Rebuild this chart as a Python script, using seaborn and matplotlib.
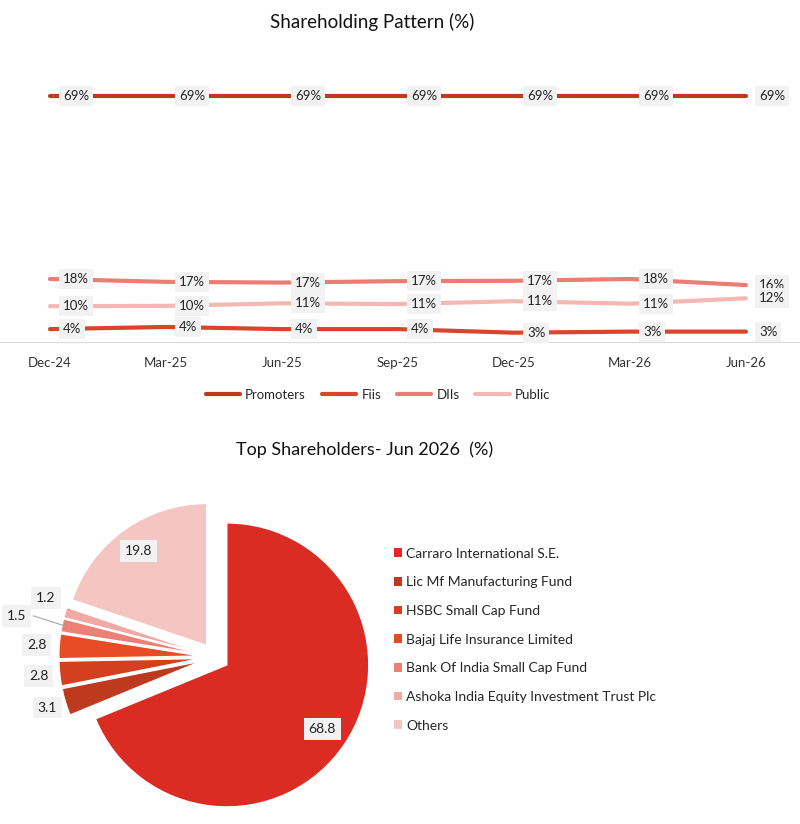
import numpy as np
import pandas as pd
import matplotlib
matplotlib.use("Agg")
import matplotlib.pyplot as plt
import seaborn as sns
from matplotlib.patches import Patch
from matplotlib.lines import Line2D

quarters = ["Dec-24", "Mar-25", "Jun-25", "Sep-25", "Dec-25", "Mar-26", "Jun-26"]
promoters = [68.8, 68.8, 68.8, 68.8, 68.8, 68.8, 68.8]
fiis = [3.6, 4.2, 3.6, 3.6, 2.6, 2.9, 2.9]
diis = [17.6, 16.8, 16.6, 17.0, 17.1, 17.6, 15.9]
public = [10.0, 10.1, 10.8, 10.6, 11.4, 10.7, 12.2]

holders = ["Carraro International S.E.", "Lic Mf Manufacturing Fund", "HSBC Small Cap Fund",
           "Bajaj Life Insurance Limited", "Bank Of India Small Cap Fund",
           "Ashoka India Equity Investment Trust Plc", "Others"]
holding = [68.8, 3.1, 2.8, 2.8, 1.5, 1.2, 19.8]

line_colors = {"Promoters": "#BE3A1E", "Fiis": "#D9442A", "DIIs": "#EC7D72", "Public": "#F4B8B2"}
pie_colors = ["#DA2C22", "#BE3A1E", "#D4401F", "#E94B24", "#EC8077", "#F0A9A3", "#F4C5C1"]

sns.set_style("white")
plt.rcParams["font.family"] = ["Lato", "DejaVu Sans"]

W, H = 800, 824
fig = plt.figure(figsize=(W / 100, H / 100), dpi=100)

# ---- line chart ----
df = pd.DataFrame({"pos": np.arange(len(quarters)), "quarter": quarters,
                   "Promoters": promoters, "Fiis": fiis, "DIIs": diis, "Public": public})
long = df.melt(id_vars=["pos", "quarter"], var_name="group", value_name="value")

ax = fig.add_axes([0, 1 - 342 / H, 1, 268.5 / H])
sns.lineplot(data=long, x="pos", y="value", hue="group", palette=line_colors,
             linewidth=3, ax=ax, legend=False, solid_capstyle="round")
ax.set_xlim(-0.431, 6.466)
ax.set_ylim(0, 75)
ax.set_xlabel("")
ax.set_ylabel("")
ax.set_yticks([])
ax.set_xticks(range(len(quarters)), quarters, fontsize=9.5, color="#333333")
ax.set_xticks(np.arange(0.5, len(quarters) - 1, 1), minor=True)
ax.tick_params(axis="x", which="major", length=0, pad=11)
ax.tick_params(axis="x", which="minor", length=8, color="#D9D9D9", width=1)
for s in ["top", "left", "right"]:
    ax.spines[s].set_visible(False)
ax.spines["bottom"].set_color("#D9D9D9")
ax.patch.set_alpha(0)

for grp in ["Promoters", "Fiis", "DIIs", "Public"]:
    for i, v in enumerate(df[grp]):
        ax.annotate(f"{v:.0f}%", (i, v), xytext=(13, 0), textcoords="offset pixels",
                    ha="left", va="center", fontsize=9.5, color="#222222",
                    bbox=dict(boxstyle="square,pad=0.3", fc="#F2F2F2", ec="none"),
                    annotation_clip=False)

fig.text(372 / W, 1 - 22 / H, "Shareholding Pattern (%)", ha="center", va="center",
         fontsize=13.5, color="#111111")

handles = [Line2D([0], [0], color=line_colors[g], lw=3) for g in line_colors]
ax.legend(handles, list(line_colors), loc="center", bbox_to_anchor=(378 / W, 1 - 395 / H),
          bbox_transform=fig.transFigure, ncol=4, frameon=False, fontsize=9.5,
          handlelength=2.6, columnspacing=1.2, handletextpad=0.4)

# ---- pie chart ----
R = 142
cx, cy = 215, 657
axp = fig.add_axes([(cx - 1.5 * R) / W, (H - cy - 1.15 * R) / H, 3.0 * R / W, 2.3 * R / H])
wedges, _ = axp.pie(holding, colors=pie_colors, startangle=90, counterclock=False,
                    explode=[0.1] * len(holding),
                    wedgeprops=dict(edgecolor="white", linewidth=1))
axp.set_xlim(-1.5, 1.5)
axp.set_ylim(-1.15, 1.15)
axp.set_aspect("equal")

label_dist = [0.91, 1.235, 1.25, 1.26, 1.43, 1.26, 0.92]
label_turn = [0, 0, 0, 0, 0, -2.6, 0]
for w, v, d, t in zip(wedges, holding, label_dist, label_turn):
    ang = np.deg2rad((w.theta1 + w.theta2) / 2 + t)
    lx, ly = d * np.cos(ang), d * np.sin(ang)
    if d > 1.4:
        axp.plot([1.08 * np.cos(ang), lx + 0.12], [1.08 * np.sin(ang), ly], color="#A6A6A6", lw=0.8)
    axp.text(lx, ly, f"{v}", ha="center", va="center", fontsize=10, color="#222222",
             bbox=dict(boxstyle="square,pad=0.35", fc="#F2F2F2", ec="none"))

fig.text(365 / W, 1 - 450 / H, "Top Shareholders- Jun 2026  (%)", ha="center", va="center",
         fontsize=13, color="#111111")

phandles = [Patch(facecolor=c, edgecolor="none") for c in pie_colors]
fig.legend(phandles, holders, loc="upper left", bbox_to_anchor=(381.5 / W, 1 - 535 / H),
           frameon=False, fontsize=10, handlelength=0.58, handleheight=0.58,
           handletextpad=0.3, labelspacing=1.2)

fig.savefig("out.png", dpi=100)
